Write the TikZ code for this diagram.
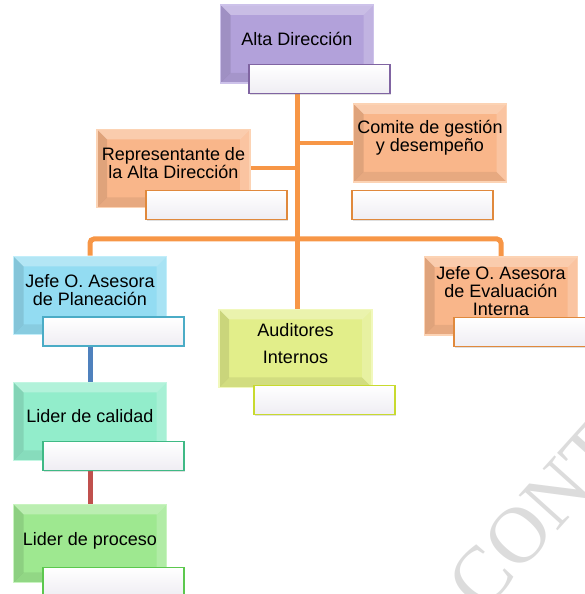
\documentclass[tikz,border=0pt]{standalone}
\usepackage{fontspec}
\setmainfont{Liberation Sans}
\newfontfamily\wmfont{Liberation Serif}
\usetikzlibrary{shadows}
\pgfdeclarelayer{background}
\pgfsetlayers{background,main}

% card fills, light rims and slot edges
\definecolor{cPur}{HTML}{B2A1DA}\definecolor{cPurRim}{HTML}{CDC2EA}\definecolor{cPurEdge}{HTML}{8064A2}
\definecolor{cOra}{HTML}{F9B68A}\definecolor{cOraRim}{HTML}{FCD3B4}\definecolor{cOraEdge}{HTML}{E0893D}
\definecolor{cBlu}{HTML}{93DCF2}\definecolor{cBluRim}{HTML}{C2EEFA}\definecolor{cBluEdge}{HTML}{4BACC6}
\definecolor{cYel}{HTML}{E2EE8A}\definecolor{cYelRim}{HTML}{F1F8BC}\definecolor{cYelEdge}{HTML}{C8DA2F}
\definecolor{cAqu}{HTML}{92EDCB}\definecolor{cAquRim}{HTML}{C2F6E2}\definecolor{cAquEdge}{HTML}{3FB985}
\definecolor{cGre}{HTML}{9EE890}\definecolor{cGreRim}{HTML}{C8F4BF}\definecolor{cGreEdge}{HTML}{5CC84E}
\definecolor{slotgray}{HTML}{EFEDF3}
\definecolor{linkOrange}{HTML}{F79646}
\definecolor{linkBlue}{HTML}{4F81BD}
\definecolor{linkRed}{HTML}{C0504D}
\definecolor{wmgray}{HTML}{DCDCDC}

\tikzset{
  bevel/.style={path picture={
    \path (path picture bounding box.north west) coordinate (pA)
          (path picture bounding box.north east) coordinate (pB)
          (path picture bounding box.south east) coordinate (pC)
          (path picture bounding box.south west) coordinate (pD);
    \fill[white,opacity=.30] (pA) -- (pB) -- ([shift={(-10pt,-10pt)}]pB) -- ([shift={(10pt,-10pt)}]pA) -- cycle;
    \fill[white,opacity=.20] (pB) -- (pC) -- ([shift={(-10pt,10pt)}]pC) -- ([shift={(-10pt,-10pt)}]pB) -- cycle;
    \fill[black,opacity=.10] (pA) -- (pD) -- ([shift={(10pt,10pt)}]pD) -- ([shift={(10pt,-10pt)}]pA) -- cycle;
    \fill[black,opacity=.07] (pD) -- (pC) -- ([shift={(-10pt,10pt)}]pC) -- ([shift={(10pt,10pt)}]pD) -- cycle;
  }},
  card/.style={fill=c#1, draw=c#1Rim, line width=1.8pt, bevel,
    minimum width=153pt, minimum height=78pt, inner sep=0pt},
  slot/.style={draw=c#1Edge, line width=1.8pt, top color=white, bottom color=slotgray,
    minimum width=141pt, minimum height=29pt, inner sep=0pt,
    drop shadow={opacity=.25, shadow xshift=1.2pt, shadow yshift=-1.2pt}},
  cardtext/.style={font=\fontsize{18}{18}\selectfont, align=center, inner sep=0pt},
  trunk/.style={draw=linkOrange, line width=5pt},
  branch/.style={draw=linkOrange, line width=4pt},
}

\begin{document}
\begin{tikzpicture}[x=1pt,y=1pt]
\useasboundingbox (0,0) rectangle (585,594);

% watermark, cut by the page edge
\begin{scope}
  \clip (0,0) rectangle (585,594);
  \node[anchor=base west, rotate=48, inner sep=0pt, text=wmgray,
        font=\fontsize{80}{80}\wmfont] (wmark) at (482.5,-20.8) {CONT};
\end{scope}

% top management
\node[card=Pur] (alta) at (297,550) {};
\node[cardtext] (altaT) at ([yshift=5pt]alta.center) {Alta Dirección};
\node[slot=Pur] (altaS) at (319.5,515) {};

% second level
\node[card=Ora] (rep) at (173.5,425.5) {};
\node[cardtext] (repT) at ([yshift=5pt]rep.center) {Representante de\\la Alta Dirección};
\node[slot=Ora] (repS) at (216.5,389) {};

\node[card=Ora] (com) at (430,451) {};
\node[cardtext] (comT) at ([yshift=5pt]com.center) {Comite de gestión\\y desempeño};
\node[slot=Ora] (comS) at (422.5,389) {};

% third level
\node[card=Blu] (jefP) at (90,298.5) {};
\node[cardtext] (jefPT) at ([yshift=5pt]jefP.center) {Jefe O. Asesora\\de Planeación};
\node[slot=Blu] (jefPS) at (113.5,262.5) {};

\node[card=Ora] (jefE) at (501,298) {};
\node[cardtext] (jefET) at ([yshift=5pt]jefE.center) {Jefe O. Asesora\\de Evaluación\\Interna};
\node[slot=Ora] (jefES) at (524.5,262) {};

\node[card=Yel] (aud) at (295.5,245.5) {};
\node[cardtext] (audT) at ([yshift=5pt]aud.center) {Auditores\\[9pt]Internos};
\node[slot=Yel] (audS) at (324.5,194) {};

% quality chain
\node[card=Aqu] (cal) at (90,172.5) {};
\node[cardtext] (calT) at ([yshift=5pt]cal.center) {Lider de calidad};
\node[slot=Aqu] (calS) at (113.5,138) {};

\node[card=Gre] (proc) at (90,50.5) {};
\node[cardtext] (procT) at ([yshift=3pt]proc.center) {Lider de proceso};
\node[slot=Gre] (procS) at (113.5,12) {};

\coordinate (bar) at (297,355);

% connectors behind the cards
\begin{pgfonlayer}{background}
  \draw[trunk] (alta.south) -- (alta.south |- aud.north);
  \draw[branch] (rep.east) -- (rep.east -| alta.south);
  \draw[branch] (com.west) -- (com.west -| alta.south);
  \draw[trunk, rounded corners=4pt] (jefP.north) |- (bar) -| (jefE.north);
  \draw[draw=linkBlue, line width=5pt] (jefP.south) -- (cal.north);
  \draw[draw=linkRed, line width=5pt] (cal.south) -- (proc.north);
\end{pgfonlayer}
\end{tikzpicture}
\end{document}
